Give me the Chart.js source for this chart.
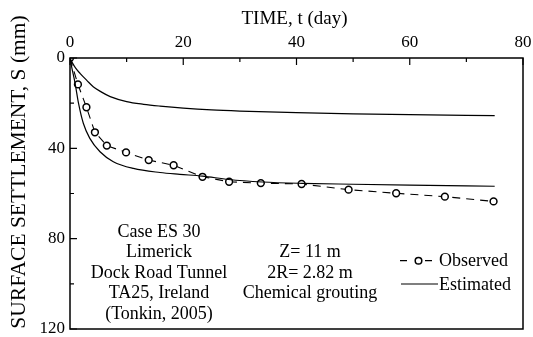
<!DOCTYPE html>
<html>
<head>
<meta charset="utf-8">
<script src="https://cdn.jsdelivr.net/npm/chart.js@4"></script>
<style>
  html, body { margin: 0; padding: 0; background: #fff; }
  #wrap { width: 533px; height: 337px; position: relative; }
</style>
</head>
<body>
<div id="wrap"><canvas id="c" width="533" height="337"></canvas></div>
<script>
// Observed surface settlement (time in days, settlement in mm)
const obsTime = [0, 1.4, 2.9, 4.4, 6.5, 9.9, 13.9, 18.3, 23.4, 28.1, 33.7, 40.9, 49.2, 57.6, 66.2, 74.8];
const obsSettle = [0, 11.7, 21.8, 32.9, 38.8, 41.8, 45.2, 47.5, 52.6, 54.8, 55.4, 55.8, 58.3, 59.9, 61.4, 63.5];

// Estimated settlement, lower bound curve
const estLowTime = [0, 0.3, 0.9, 1.5, 2.35, 3.5, 5.3, 7.65, 11.2, 15.9, 19.4, 23.4, 28, 34, 41, 50, 60, 75];
const estLowSettle = [0, 4, 11.2, 20, 28.9, 35.6, 41.5, 45.9, 48.9, 50.7, 51.5, 52.3, 53.8, 54.9, 55.5, 55.9, 56.3, 56.8];

// Estimated settlement, upper bound curve
const estHighTime = [0, 0.5, 1, 1.77, 3, 4.1, 5.5, 7.1, 10, 13, 15.9, 20, 25, 30, 40, 50, 60, 75];
const estHighSettle = [0, 2.5, 4.5, 6.8, 10, 12.7, 15, 17.1, 19.3, 20.5, 21.3, 22.2, 23, 23.5, 24.2, 24.7, 25.1, 25.5];

// Axis ticks
const timeTicks = [0, 20, 40, 60, 80];
const settleTicks = [0, 40, 80, 120];

const caseNotes = ['Case ES 30', 'Limerick', 'Dock Road Tunnel', 'TA25, Ireland', '(Tonkin, 2005)'];
const tunnelNotes = ['Z= 11 m', '2R= 2.82 m', 'Chemical grouting'];

const SERIF = '"Liberation Serif", "Times New Roman", serif';

function pts(xs, ys) { return xs.map((x, i) => ({ x: x, y: ys[i] })); }

// Frame, inward tick marks, axis titles, notes and legend
const decor = {
  id: 'decor',
  afterDraw(chart) {
    const ctx = chart.ctx;
    const a = chart.chartArea;
    const xs = chart.scales.x, ys = chart.scales.y;
    ctx.save();
    ctx.strokeStyle = '#000';
    ctx.lineWidth = 1.5;
    ctx.strokeRect(a.left, a.top, a.right - a.left, a.bottom - a.top);

    ctx.lineWidth = 1.2;
    ctx.beginPath();
    xs.ticks.forEach(t => {
      const px = xs.getPixelForValue(t.value);
      const len = timeTicks.includes(t.value) ? 7 : 4;
      ctx.moveTo(px, a.top); ctx.lineTo(px, a.top + len);
    });
    ys.ticks.forEach(t => {
      const py = ys.getPixelForValue(t.value);
      const len = settleTicks.includes(t.value) ? 7 : 4;
      ctx.moveTo(a.left, py); ctx.lineTo(a.left + len, py);
    });
    ctx.stroke();

    ctx.fillStyle = '#000';
    // axis titles
    ctx.font = '19px ' + SERIF;
    ctx.textAlign = 'center';
    ctx.textBaseline = 'alphabetic';
    ctx.fillText('TIME, t (day)', (a.left + a.right) / 2 - 2, 24);
    ctx.save();
    ctx.translate(25, 172);
    ctx.rotate(-Math.PI / 2);
    ctx.font = '21.5px ' + SERIF;
    ctx.fillText('SURFACE SETTLEMENT, S (mm)', 0, 0);
    ctx.restore();

    // notes
    ctx.font = '18px ' + SERIF;
    caseNotes.forEach((s, i) => ctx.fillText(s, 159, 236.5 + i * 20.5));
    tunnelNotes.forEach((s, i) => ctx.fillText(s, 310, 257 + i * 20.5));

    // legend
    ctx.textAlign = 'left';
    ctx.lineWidth = 1.2;
    ctx.beginPath();
    ctx.moveTo(400, 260.7); ctx.lineTo(407, 260.7);
    ctx.moveTo(425, 260.7); ctx.lineTo(432, 260.7);
    ctx.stroke();
    ctx.beginPath();
    ctx.lineWidth = 1.5;
    ctx.arc(418.5, 260.7, 3.3, 0, Math.PI * 2);
    ctx.fillStyle = '#fff';
    ctx.fill();
    ctx.stroke();
    ctx.fillStyle = '#000';
    ctx.lineWidth = 1.2;
    ctx.beginPath();
    ctx.moveTo(401, 284); ctx.lineTo(438, 284);
    ctx.stroke();
    ctx.fillText('Observed', 439, 266);
    ctx.fillText('Estimated', 439, 290);
    ctx.restore();
  }
};

new Chart(document.getElementById('c'), {
  type: 'scatter',
  data: {
    datasets: [
      {
        label: 'Estimated',
        data: pts(estHighTime, estHighSettle),
        showLine: true,
        borderColor: '#000',
        borderWidth: 1.2,
        pointRadius: 0,
        cubicInterpolationMode: 'monotone'
      },
      {
        label: 'Estimated',
        data: pts(estLowTime, estLowSettle),
        showLine: true,
        borderColor: '#000',
        borderWidth: 1.2,
        pointRadius: 0,
        cubicInterpolationMode: 'monotone'
      },
      {
        label: 'Observed',
        data: pts(obsTime, obsSettle),
        showLine: true,
        borderColor: '#000',
        borderWidth: 1.1,
        borderDash: [8, 6],
        pointRadius: 3.4,
        pointBorderWidth: 1.5,
        pointBackgroundColor: '#fff',
        pointBorderColor: '#000'
      }
    ]
  },
  options: {
    responsive: false,
    animation: false,
    layout: { padding: { left: 0, top: 0, right: 10, bottom: 8 } },
    plugins: { legend: { display: false }, tooltip: { enabled: false } },
    scales: {
      x: {
        type: 'linear',
        position: 'top',
        min: 0, max: 80,
        grid: { display: false, drawTicks: false },
        border: { display: false },
        afterFit(s) { s.height = 58; s.paddingLeft = 0; s.paddingRight = 0; },
        ticks: {
          stepSize: 10,
          padding: 5,
          maxRotation: 0,
          autoSkip: false,
          color: '#000',
          font: { family: SERIF, size: 17 },
          callback: v => timeTicks.includes(v) ? String(v) : ''
        }
      },
      y: {
        type: 'linear',
        reverse: true,
        min: 0, max: 120,
        grid: { display: false, drawTicks: false },
        border: { display: false },
        afterFit(s) { s.width = 70; s.paddingTop = 0; s.paddingBottom = 0; },
        ticks: {
          stepSize: 20,
          padding: 5,
          autoSkip: false,
          color: '#000',
          font: { family: SERIF, size: 17 },
          callback: v => settleTicks.includes(v) ? String(v) : ''
        }
      }
    }
  },
  plugins: [decor]
});
</script>
</body>
</html>
